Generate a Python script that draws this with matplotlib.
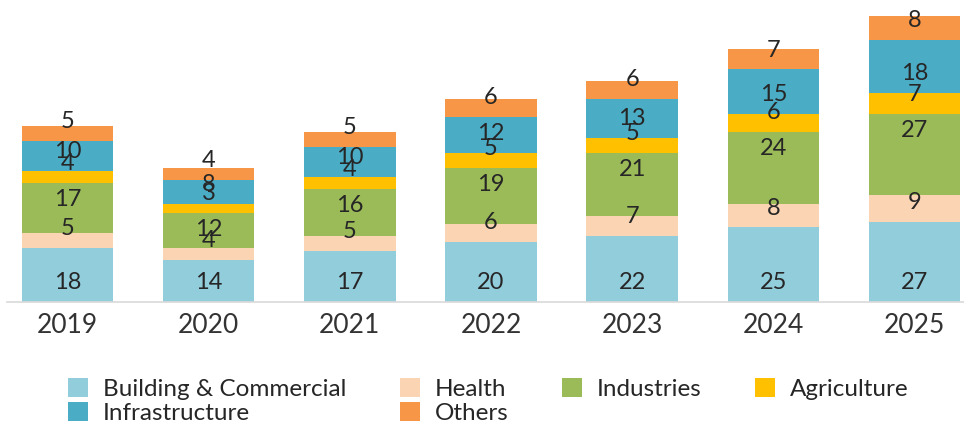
import matplotlib.pyplot as plt
import numpy as np

plt.rcParams['font.family'] = ['Lato', 'DejaVu Sans']

years = ['2019', '2020', '2021', '2022', '2023', '2024', '2025']
sectors = ['Building & Commercial', 'Health', 'Industries', 'Agriculture',
           'Infrastructure', 'Others']
building = [18, 14, 17, 20, 22, 25, 27]
health = [5, 4, 5, 6, 7, 8, 9]
industries = [17, 12, 16, 19, 21, 24, 27]
agriculture = [4, 3, 4, 5, 5, 6, 7]
infrastructure = [10, 8, 10, 12, 13, 15, 18]
others = [5, 4, 5, 6, 6, 7, 8]

colors = ['#92CDDC', '#FBD4B4', '#9BBB59', '#FFC000', '#4BACC6', '#F79646']
series = [building, health, industries, agriculture, infrastructure, others]

fig = plt.figure(figsize=(9.64, 4.28), dpi=100)
ax = fig.add_axes([7.3 / 964, 1 - 302 / 428, 1 - 7.3 / 964, 302 / 428])

x = np.arange(len(years))
bottom = np.zeros(len(years))
handles = []
for name, vals, col in zip(sectors, series, colors):
    vals = np.array(vals, dtype=float)
    bars = ax.bar(x, vals, 0.648, bottom=bottom, color=col, label=name)
    handles.append(bars)
    for xi, b, v in zip(x, bottom, vals):
        if name == 'Industries':
            # label sits just inside the top of the segment
            ax.annotate(f'{v:g}', (xi, b + v), xytext=(0, -12),
                        textcoords='offset points', ha='center', va='center',
                        fontsize=17, color='#262626')
        else:
            # label sits just inside the base of the segment
            ax.annotate(f'{v:g}', (xi, b), xytext=(0, 14),
                        textcoords='offset points', ha='center', va='center',
                        fontsize=17, color='#262626')
    bottom += vals

ax.set_xlim(-0.426, 6.35)
ax.set_ylim(0, 101.3)
ax.set_xticks(x)
ax.set_xticklabels(years, fontsize=19, color='#333333')
ax.tick_params(axis='x', length=0, pad=8)
ax.set_yticks([])
for s in ['top', 'right', 'left']:
    ax.spines[s].set_visible(False)
ax.spines['bottom'].set_color('#D9D9D9')
ax.spines['bottom'].set_linewidth(1.2)

# column-major order so the first row reads left to right
order = [0, 4, 1, 5, 2, 3]
fig.legend([handles[i] for i in order], [sectors[i] for i in order],
           ncol=4, loc='upper left', bbox_to_anchor=(68 / 964, 1 - 378 / 428),
           frameon=False, fontsize=17.5, handlelength=0.82, handleheight=0.82,
           handletextpad=0.62, columnspacing=2.2, labelspacing=0.1,
           borderpad=0, borderaxespad=0, labelcolor='#262626')

fig.savefig('out.png', dpi=100)
